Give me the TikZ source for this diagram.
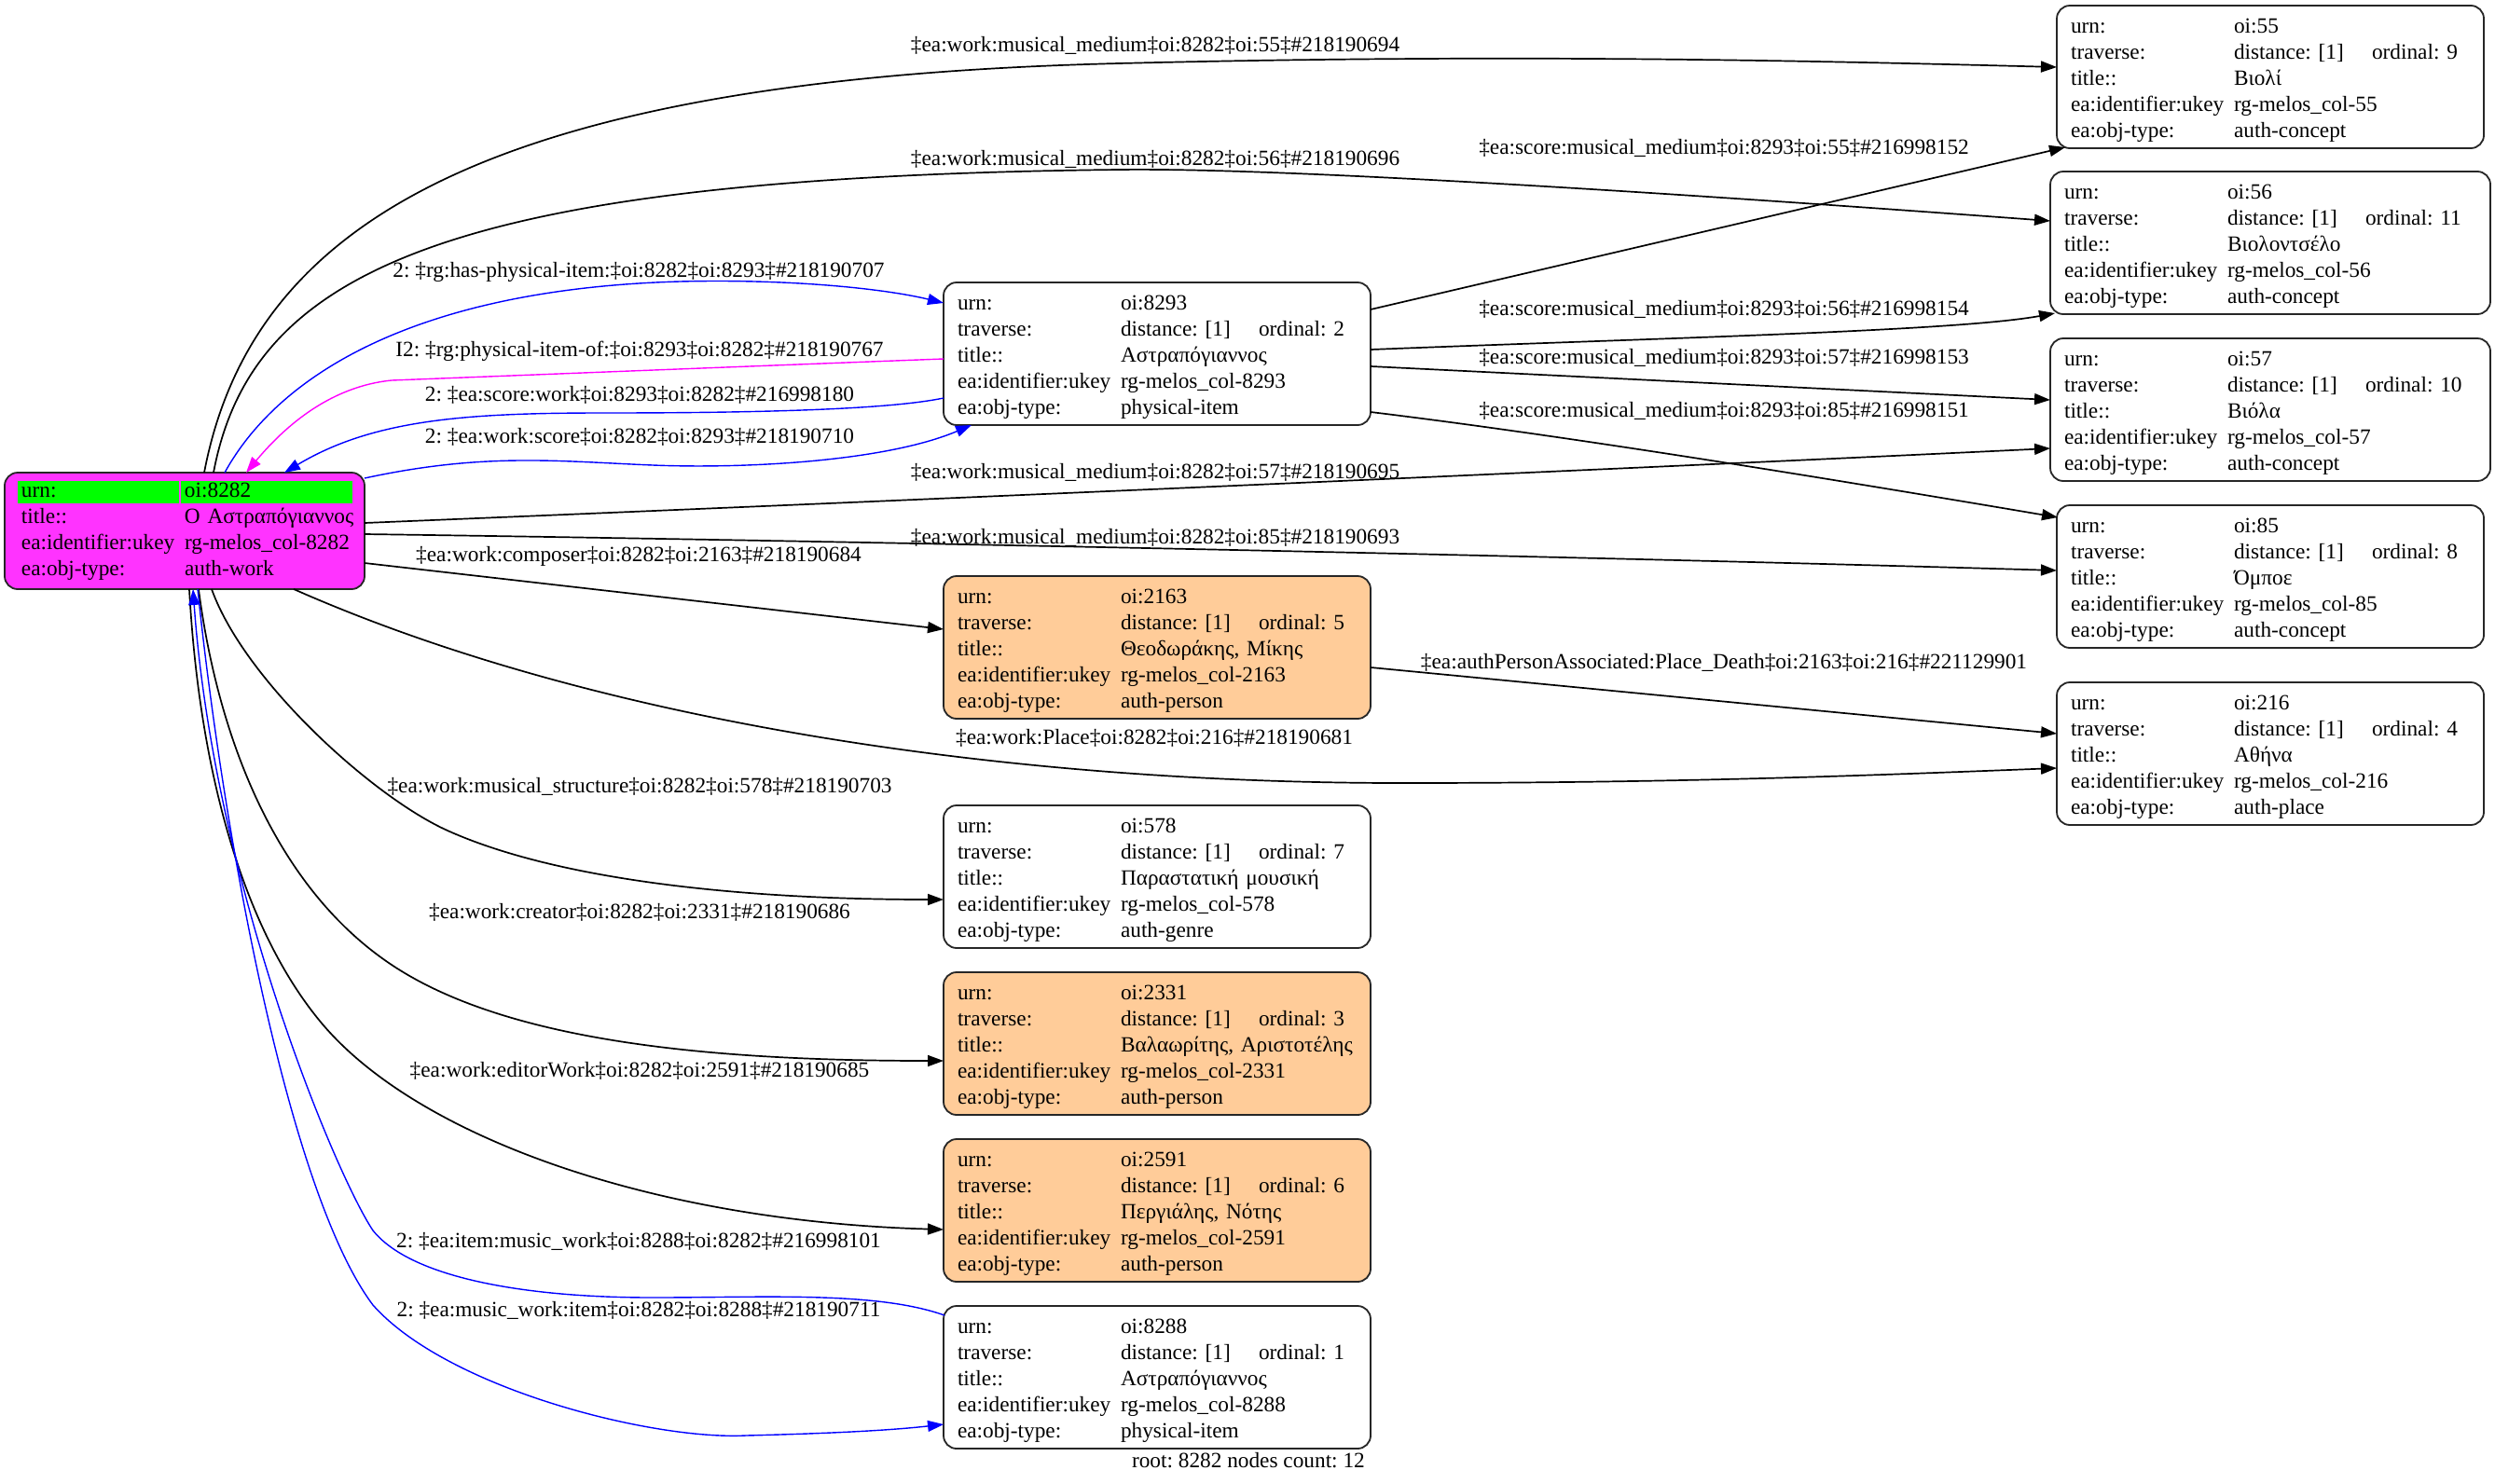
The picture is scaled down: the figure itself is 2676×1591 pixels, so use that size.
\documentclass[tikz,border=0pt]{standalone}
\usepackage{fontspec}
\setmainfont{Liberation Serif}
\usetikzlibrary{arrows.meta,calc}
\definecolor{rootfill}{HTML}{FF33FF}
\definecolor{persfill}{HTML}{FFCC99}
\definecolor{hlgreen}{HTML}{00FF00}
\definecolor{edgeblue}{HTML}{0000FF}
\definecolor{edgemag}{HTML}{FF00FF}
\newcommand\graphfont{\fontsize{23.3}{28}\selectfont\frenchspacing}
\newcommand\rw[2]{\makebox[175pt][l]{#1}\mbox{#2}}
\newcommand\fr[1]{\rule{0pt}{22.5pt}\rw{urn:}{#1}}
\newcommand\tv[1]{\makebox[175pt][l]{traverse:}\makebox[148pt][l]{distance: [1]}\mbox{ordinal: #1}}
\begin{document}
\begin{tikzpicture}[x=1pt,y=-1pt,
  rec/.style={draw=black!85, line width=1.8pt, rounded corners=14pt, inner xsep=15pt, inner ysep=0pt, outer sep=0pt, align=left, font=\graphfont, anchor=north west, text width=428pt, minimum height=153pt, fill=white},
  wide/.style={text width=442pt},
  person/.style={fill=persfill},
  lbl/.style={font=\graphfont, inner sep=0pt, anchor=base},
  edge/.style={line width=1.7pt, -{Triangle[length=17pt,width=12pt]}},
  bl/.style={edge, line width=1.4pt, color=edgeblue},
  mg/.style={edge, line width=1.4pt, color=edgemag}]
\fill[white] (0,0) rectangle (2676,1591);
\useasboundingbox (0,0) rectangle (2676,1591);

% nodes
\node[rec,fill=rootfill,text width=350pt,inner xsep=18pt,minimum height=125pt] (root) at (5,507)
 {\hspace*{-4pt}\rlap{\color{hlgreen}\rule[-7pt]{173pt}{24pt}\hspace{2pt}\rule[-7pt]{184pt}{24pt}}\hspace*{4pt}\rw{urn:}{oi:8282}\\
  \rw{title::}{Ο Αστραπόγιαννος}\\ \rw{ea:identifier:ukey}{rg-melos\_col-8282}\\ \rw{ea:obj-type:}{auth-work}};
\node[rec] (n8293) at (1012,303) {\fr{oi:8293}\\ \tv{2}\\ \rw{title::}{Αστραπόγιαννος}\\ \rw{ea:identifier:ukey}{rg-melos\_col-8293}\\ \rw{ea:obj-type:}{physical-item}};
\node[rec] (n55) at (2206,6) {\fr{oi:55}\\ \tv{9}\\ \rw{title::}{Βιολί}\\ \rw{ea:identifier:ukey}{rg-melos\_col-55}\\ \rw{ea:obj-type:}{auth-concept}};
\node[rec,wide] (n56) at (2199,184) {\fr{oi:56}\\ \tv{11}\\ \rw{title::}{Βιολοντσέλο}\\ \rw{ea:identifier:ukey}{rg-melos\_col-56}\\ \rw{ea:obj-type:}{auth-concept}};
\node[rec,wide] (n57) at (2199,363) {\fr{oi:57}\\ \tv{10}\\ \rw{title::}{Βιόλα}\\ \rw{ea:identifier:ukey}{rg-melos\_col-57}\\ \rw{ea:obj-type:}{auth-concept}};
\node[rec] (n85) at (2206,542) {\fr{oi:85}\\ \tv{8}\\ \rw{title::}{Όμποε}\\ \rw{ea:identifier:ukey}{rg-melos\_col-85}\\ \rw{ea:obj-type:}{auth-concept}};
\node[rec] (n216) at (2206,732) {\fr{oi:216}\\ \tv{4}\\ \rw{title::}{Αθήνα}\\ \rw{ea:identifier:ukey}{rg-melos\_col-216}\\ \rw{ea:obj-type:}{auth-place}};
\node[rec,person] (n2163) at (1012,618) {\fr{oi:2163}\\ \tv{5}\\ \rw{title::}{Θεοδωράκης, Μίκης}\\ \rw{ea:identifier:ukey}{rg-melos\_col-2163}\\ \rw{ea:obj-type:}{auth-person}};
\node[rec] (n578) at (1012,864) {\fr{oi:578}\\ \tv{7}\\ \rw{title::}{Παραστατική μουσική}\\ \rw{ea:identifier:ukey}{rg-melos\_col-578}\\ \rw{ea:obj-type:}{auth-genre}};
\node[rec,person] (n2331) at (1012,1043) {\fr{oi:2331}\\ \tv{3}\\ \rw{title::}{Βαλαωρίτης, Αριστοτέλης}\\ \rw{ea:identifier:ukey}{rg-melos\_col-2331}\\ \rw{ea:obj-type:}{auth-person}};
\node[rec,person] (n2591) at (1012,1222) {\fr{oi:2591}\\ \tv{6}\\ \rw{title::}{Περγιάλης, Νότης}\\ \rw{ea:identifier:ukey}{rg-melos\_col-2591}\\ \rw{ea:obj-type:}{auth-person}};
\node[rec] (n8288) at (1012,1401) {\fr{oi:8288}\\ \tv{1}\\ \rw{title::}{Αστραπόγιαννος}\\ \rw{ea:identifier:ukey}{rg-melos\_col-8288}\\ \rw{ea:obj-type:}{physical-item}};

% black edges from root
\draw[edge] ($(root.north west)+(214,0)$) .. controls (270,240) and (520,85) .. (1200,68) .. controls (1600,58) and (1900,64) .. ($(n55.north west)+(0,66)$);
\draw[edge] ($(root.north west)+(224,0)$) .. controls (270,290) and (480,190) .. (1200,182) .. controls (1350,180) and (1700,200) .. ($(n56.north west)+(0,53)$);
\draw[edge] ($(root.north west)+(386,54)$) .. controls (900,540) and (1700,505) .. ($(n57.north west)+(0,118)$);
\draw[edge] ($(root.north west)+(386,66)$) .. controls (900,580) and (1700,597) .. ($(n85.north west)+(0,70)$);
\draw[edge] ($(root.north west)+(386,97)$) -- ($(n2163.north west)+(0,57)$);
\draw[edge] ($(root.north west)+(310,125)$) .. controls (650,780) and (1100,840) .. (1502,840) .. controls (1800,840) and (2000,832) .. ($(n216.north west)+(0,92)$);
\draw[edge] ($(root.north west)+(222,125)$) .. controls (262,730) and (400,855) .. (480,891) .. controls (600,945) and (800,965) .. ($(n578.north west)+(0,101)$);
\draw[edge] ($(root.north west)+(208,125)$) .. controls (235,800) and (300,955) .. (420,1035) .. controls (540,1115) and (750,1138) .. ($(n2331.north west)+(0,95)$);
\draw[edge] ($(root.north west)+(198,125)$) .. controls (215,850) and (270,1010) .. (347,1100) .. controls (450,1220) and (700,1310) .. ($(n2591.north west)+(0,97)$);

% blue / magenta edges
\draw[bl] ($(n8288.north west)+(1,10)$) .. controls (940,1385) and (820,1392) .. (700,1392) .. controls (560,1392) and (440,1370) .. (400,1320) .. controls (360,1260) and (230,950) .. ($(root.north west)+(202,125)$);
\draw[bl] ($(root.north west)+(207,125)$) .. controls (240,900) and (310,1280) .. (400,1400) .. controls (480,1490) and (700,1545) .. (800,1540) .. controls (880,1538) and (950,1535) .. ($(n8288.north west)+(0,127)$);
\draw[bl] ($(root.north west)+(236,0)$) .. controls (300,400) and (450,310) .. (729,302) .. controls (850,299) and (950,310) .. ($(n8293.north west)+(0,22)$);
\draw[mg] ($(n8293.north west)+(0,82)$) .. controls (800,393) and (550,403) .. (420,408) .. controls (370,413) and (320,440) .. ($(root.north west)+(259,0)$);
\draw[bl] ($(n8293.north west)+(0,124)$) .. controls (950,440) and (800,443) .. (646,443) .. controls (500,443) and (400,450) .. ($(root.north west)+(300,0)$);
\draw[bl] ($(root.north west)+(386,6)$) .. controls (520,485) and (600,495) .. (700,499) .. controls (800,503) and (950,495) .. ($(n8293.north west)+(30,153)$);

% edges from 8293 and 2163
\draw[edge] ($(n8293.north west)+(458,29)$) -- ($(n55.north west)+(9,152)$);
\draw[edge] ($(n8293.north west)+(458,72)$) .. controls (1800,362) and (2100,355) .. ($(n56.north west)+(5,152)$);
\draw[edge] ($(n8293.north west)+(458,90)$) -- ($(n57.north west)+(0,66)$);
\draw[edge] ($(n8293.north west)+(458,139)$) .. controls (1700,470) and (2000,520) .. ($(n85.north west)+(1,13)$);
\draw[edge] ($(n2163.north west)+(458,98)$) -- ($(n216.north west)+(0,55)$);

% labels
\node[lbl] (lE1) at (1239,55) {‡ea:work:musical\_medium‡oi:8282‡oi:55‡\#218190694};
\node[lbl] (lE2) at (1239,177) {‡ea:work:musical\_medium‡oi:8282‡oi:56‡\#218190696};
\node[lbl] (lE3) at (1239,513) {‡ea:work:musical\_medium‡oi:8282‡oi:57‡\#218190695};
\node[lbl] (lE4) at (1239,583) {‡ea:work:musical\_medium‡oi:8282‡oi:85‡\#218190693};
\node[lbl] (lE5) at (685,602) {‡ea:work:composer‡oi:8282‡oi:2163‡\#218190684};
\node[lbl] (lE6) at (1238,798) {‡ea:work:Place‡oi:8282‡oi:216‡\#218190681};
\node[lbl] (lE7) at (686,850) {‡ea:work:musical\_structure‡oi:8282‡oi:578‡\#218190703};
\node[lbl] (lE8) at (686,985) {‡ea:work:creator‡oi:8282‡oi:2331‡\#218190686};
\node[lbl] (lE9) at (686,1155) {‡ea:work:editorWork‡oi:8282‡oi:2591‡\#218190685};
\node[lbl] (lB1) at (685,1338) {2: ‡ea:item:music\_work‡oi:8288‡oi:8282‡\#216998101};
\node[lbl] (lB2) at (685,1412) {2: ‡ea:music\_work:item‡oi:8282‡oi:8288‡\#218190711};
\node[lbl] (lB3) at (685,297) {2: ‡rg:has-physical-item:‡oi:8282‡oi:8293‡\#218190707};
\node[lbl] (lM1) at (686,382) {I2: ‡rg:physical-item-of:‡oi:8293‡oi:8282‡\#218190767};
\node[lbl] (lB4) at (686,430) {2: ‡ea:score:work‡oi:8293‡oi:8282‡\#216998180};
\node[lbl] (lB5) at (686,475) {2: ‡ea:work:score‡oi:8282‡oi:8293‡\#218190710};
\node[lbl] (lS1) at (1849,165) {‡ea:score:musical\_medium‡oi:8293‡oi:55‡\#216998152};
\node[lbl] (lS2) at (1849,338) {‡ea:score:musical\_medium‡oi:8293‡oi:56‡\#216998154};
\node[lbl] (lS3) at (1849,390) {‡ea:score:musical\_medium‡oi:8293‡oi:57‡\#216998153};
\node[lbl] (lS4) at (1849,447) {‡ea:score:musical\_medium‡oi:8293‡oi:85‡\#216998151};
\node[lbl] (lA1) at (1849,717) {‡ea:authPersonAssociated:Place\_Death‡oi:2163‡oi:216‡\#221129901};
\node[lbl,anchor=base east] (footer) at (1464,1574) {root: 8282 nodes count: 12};
\end{tikzpicture}
\end{document}
